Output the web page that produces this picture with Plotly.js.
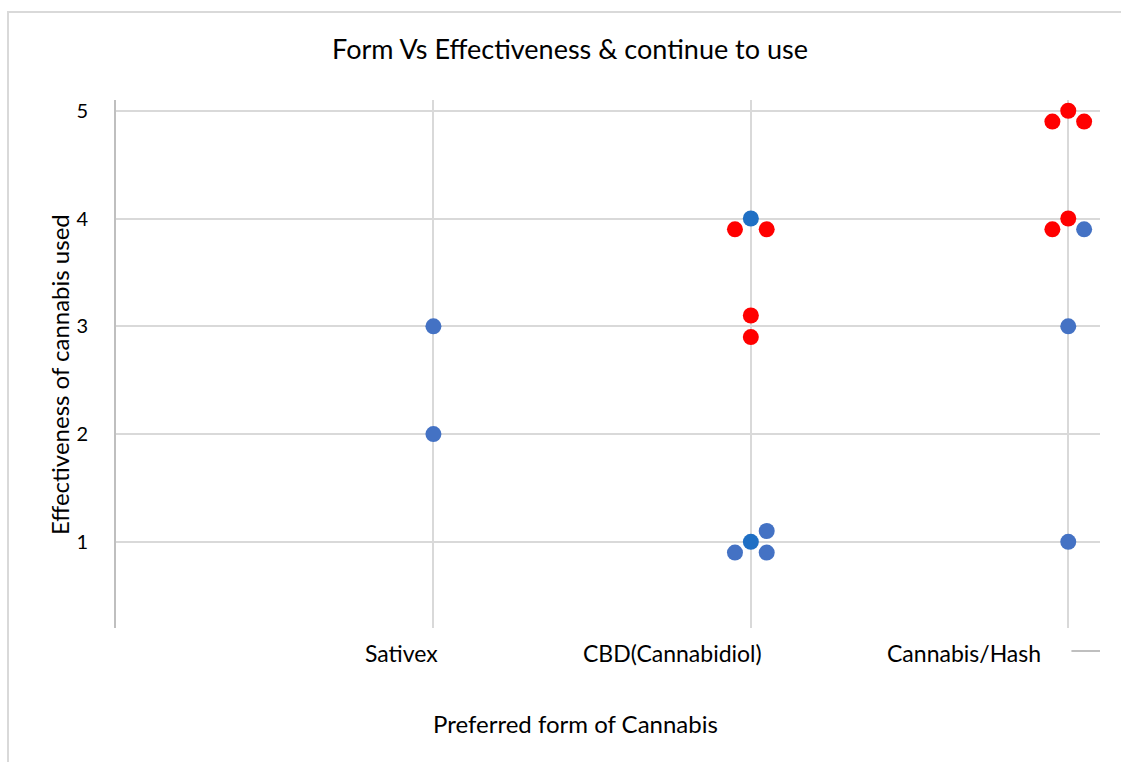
<!DOCTYPE html>
<html><head><meta charset="utf-8">
<script src="https://cdn.plot.ly/plotly-3.0.1.min.js"></script>
<style>html,body{margin:0;padding:0;background:#fff}#c{width:1121px;height:762px}</style>
</head><body><div id="c"></div>
<script>
const categories = ["Sativex", "CBD(Cannabidiol)", "Cannabis/Hash"];
const categoryPos = [1, 2, 3];
const yTicks = [1, 2, 3, 4, 5];

// Effectiveness (blue)
const blueX = [1, 1, 1.95, 2.05, 2.05, 3.05, 3, 3];
const blueY = [3, 2, 0.9, 1.1, 0.9, 3.9, 3, 1];
// Overlapping blue points (darker)
const darkX = [2, 2];
const darkY = [4, 1];
// Continue to use (red)
const redX = [1.95, 2.05, 2, 2, 3, 2.95, 3.05, 3, 2.95];
const redY = [3.9, 3.9, 3.1, 2.9, 5, 4.9, 4.9, 4, 3.9];

const FONT = "Lato, 'Open Sans', sans-serif";

const traces = [
  {x: blueX, y: blueY, mode: 'markers', type: 'scatter', name: 'Effectiveness',
   marker: {color: '#4472C4', size: 16}},
  {x: darkX, y: darkY, mode: 'markers', type: 'scatter', name: 'Effectiveness (overlap)',
   marker: {color: '#1F6FC4', size: 16}},
  {x: redX, y: redY, mode: 'markers', type: 'scatter', name: 'Continue to use',
   marker: {color: '#FF0000', size: 16}}
];

// category labels sit left of their gridlines in the original
const labelShift = [-0.099, -0.247, -0.33];
const annotations = categories.map((c, i) => ({
  text: c, x: categoryPos[i] + labelShift[i], xref: 'x', y: -25/528, yref: 'paper',
  xanchor: 'center', yanchor: 'middle', showarrow: false, font: {size: 23, family: FONT, color: '#000'}
}));

const layout = {
  width: 1121, height: 762,
  margin: {l: 116, r: 21, t: 100, b: 134},
  paper_bgcolor: '#fff', plot_bgcolor: '#fff',
  showlegend: false,
  font: {family: FONT, color: '#000', size: 17},
  title: {text: 'Form Vs Effectiveness &amp; continue to use', font: {size: 27, family: FONT, color: '#000'},
          x: 570/1121, xref: 'container', xanchor: 'center', y: 1 - 50/762, yref: 'container', yanchor: 'middle'},
  xaxis: {range: [0, 3.1], tickvals: categoryPos, showticklabels: false, showgrid: true,
          gridcolor: '#d9d9d9', gridwidth: 2, zeroline: false, showline: false, ticks: ''},
  yaxis: {range: [0.2, 5.1], tickvals: yTicks, showgrid: true, gridcolor: '#d9d9d9', gridwidth: 2,
          zeroline: false, showline: true, linecolor: '#bfbfbf', linewidth: 2, ticks: '',
          ticklabelstandoff: 22, tickfont: {size: 20}},
  annotations: annotations.concat([
    {text: 'Preferred form of Cannabis', xref: 'paper', yref: 'paper', x: (575-116)/984, y: -(723-628)/528,
     xanchor: 'center', yanchor: 'middle', showarrow: false, font: {size: 24, family: FONT, color: '#000'}},
    {text: 'Effectiveness of cannabis used', xref: 'paper', yref: 'paper', x: (60-116)/984, y: (628-375)/528,
     xanchor: 'center', yanchor: 'middle', textangle: -90, showarrow: false,
     font: {size: 24, family: FONT, color: '#000'}}
  ]),
  shapes: [
    {type: 'line', xref: 'x', yref: 'paper', x0: 3.01, x1: 3.1, y0: -23/528, y1: -23/528,
     line: {color: '#bfbfbf', width: 2}},
    {type: 'rect', xref: 'paper', yref: 'paper', x0: -108/984, x1: 1.2, y0: -0.5, y1: (628-12)/528,
     line: {color: '#d9d9d9', width: 2}, layer: 'below'}
  ]
};

Plotly.newPlot('c', traces, layout, {staticPlot: true, displayModeBar: false});
</script></body></html>
